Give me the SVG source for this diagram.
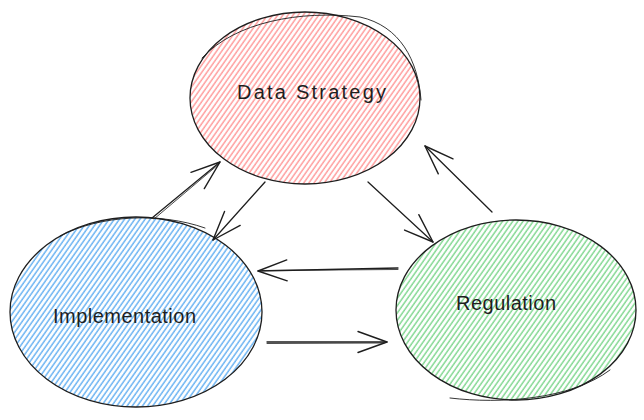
<svg xmlns="http://www.w3.org/2000/svg" width="644" height="420" viewBox="0 0 644 420">
<style>
.out{fill:none;stroke:#1e1e1e;stroke-width:1.3;stroke-linecap:round}
.out2{fill:none;stroke:#1e1e1e;stroke-width:0.9;stroke-linecap:round}
.lbl{font-family:"Liberation Sans",Arial,sans-serif;font-size:20px;fill:#1e1e1e}
.con{fill:none;stroke:#1e1e1e;stroke-width:1.3;stroke-linecap:round}
.con2{fill:none;stroke:#1e1e1e;stroke-width:0.8;stroke-linecap:round}
</style>
<defs>
<pattern id="hR" width="4.2" height="10" patternUnits="userSpaceOnUse" patternTransform="rotate(35)">
<line x1="1" y1="0" x2="1" y2="10" stroke="#ff9e9e" stroke-width="1.5"/>
</pattern>
<pattern id="hB" width="4.2" height="10" patternUnits="userSpaceOnUse" patternTransform="rotate(35)">
<line x1="1" y1="0" x2="1" y2="10" stroke="#6cb4f2" stroke-width="1.5"/>
</pattern>
<pattern id="hG" width="4.2" height="10" patternUnits="userSpaceOnUse" patternTransform="rotate(35)">
<line x1="1" y1="0" x2="1" y2="10" stroke="#84d893" stroke-width="1.5"/>
</pattern>
<marker id="ah" markerUnits="userSpaceOnUse" viewBox="-32 -14 36 28" refX="0" refY="0" markerWidth="36" markerHeight="28" orient="auto" overflow="visible">
<path d="M-29,-10.5 L0,0 L-29,10.5" fill="none" stroke="#1e1e1e" stroke-width="1.4" stroke-linecap="round" stroke-linejoin="round"/>
</marker>
</defs>
<g id="node-data-strategy">
<ellipse cx="305" cy="98" rx="115" ry="86" fill="url(#hR)"/>
<ellipse class="out" cx="305" cy="98" rx="115" ry="86"/>
<path class="out2" d="M202,58 C235,22 300,10 360,17 C400,26 418,60 421,100"/>
<text class="lbl" x="237" y="99" textLength="149" lengthAdjust="spacing">Data Strategy</text>
</g>
<g id="node-implementation">
<ellipse cx="136" cy="312" rx="126" ry="95" fill="url(#hB)"/>
<ellipse class="out" cx="136" cy="312" rx="126" ry="95"/>
<path class="out2" d="M60,236 C100,215 160,212 205,228"/>
<text class="lbl" x="53" y="323" textLength="143" lengthAdjust="spacing">Implementation</text>
</g>
<g id="node-regulation">
<ellipse cx="516" cy="310" rx="120" ry="90" fill="url(#hG)"/>
<ellipse class="out" cx="516" cy="310" rx="120" ry="90"/>
<path class="out2" d="M450,398 C500,404 570,400 610,370"/>
<text class="lbl" x="456" y="310" textLength="100" lengthAdjust="spacing">Regulation</text>
</g>
<g id="connectors">
<path class="con" d="M152,218 L220,162" marker-end="url(#ah)"/>
<path class="con2" d="M154,219 L219,164"/>
<path class="con" d="M265,182 L213,240" marker-end="url(#ah)"/>
<path class="con" d="M368,182 L433,242" marker-end="url(#ah)"/>
<path class="con" d="M492,212 L425,146" marker-end="url(#ah)"/>
<path class="con" d="M398,268 L258,271" marker-end="url(#ah)"/>
<path class="con2" d="M398,269.5 L262,270.5"/>
<path class="con" d="M267,342 L387,342" marker-end="url(#ah)"/>
<path class="con2" d="M267,343.5 L384,343"/>
</g>
</svg>
